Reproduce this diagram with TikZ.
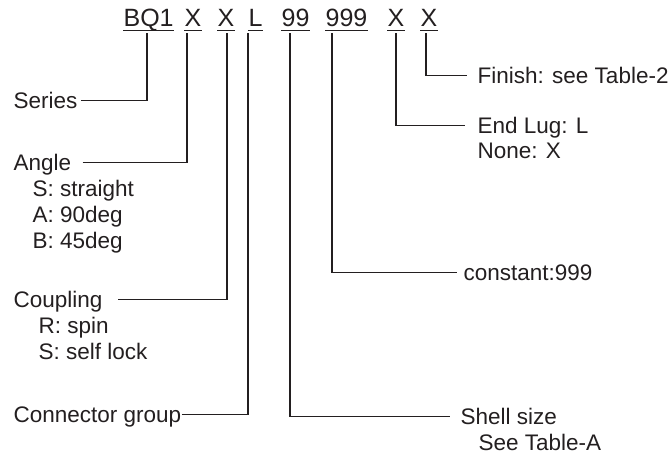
\documentclass[tikz,border=0pt]{standalone}
\usepackage{fontspec}
\setmainfont{Liberation Sans}
\usetikzlibrary{positioning,calc}
\definecolor{ink}{HTML}{231F20}
\tikzset{
  code/.style={inner sep=0pt, anchor=base west, text depth=0pt, font=\fontsize{25}{30}\selectfont},
  lbl/.style={inner sep=0pt, anchor=base west, text height=15pt, text depth=0pt, font=\fontsize{22.5}{26}\selectfont},
  uline/.style={line width=1.6pt}
}

\begin{document}
\begin{tikzpicture}[
    x=1pt, y=-1pt, % one unit is one pixel, y runs down
    color=ink, line width=1.2pt
]
    \useasboundingbox (0,0) rectangle (672,456);

    % Part number, one node per field
    \node[code] (bq) at (123,26) {BQ1};
    \node[code] (x1) at (184,26) {X};
    \node[code] (x2) at (217,26) {X};
    \node[code] (l)  at (248,26) {L};
    \node[code] (sz) at (281,26) {99};
    \node[code] (k)  at (325,26) {999};
    \node[code] (x3) at (387,26) {X};
    \node[code] (x4) at (420,26) {X};
    \foreach \n in {bq,x1,x2,l,sz,k,x3,x4}
        \draw[uline] ([yshift=-4pt]\n.south west) -- ([yshift=-4pt]\n.south east);

    % Drop points under the fields
    \coordinate (dS) at (147,33);
    \coordinate (dA) at (187,33);
    \coordinate (dC) at (227,33);
    \coordinate (dG) at (248,33);
    \coordinate (dZ) at (290,33);
    \coordinate (dK) at (332,33);
    \coordinate (dE) at (396,33);
    \coordinate (dF) at (426,33);

    % Left labels
    \node[lbl] (series) at (13,108) {Series};
    \node[lbl] (angle)  at (13,170) {Angle};
    \node[lbl] (angS) at ([shift={(19,26)}]angle.base west) {S: straight};
    \node[lbl] (angA) at ([shift={(0,26)}]angS.base west) {A: 90deg};
    \node[lbl] (angB) at ([shift={(0,26)}]angA.base west) {B: 45deg};
    \node[lbl] (coup) at (13,307) {Coupling};
    \node[lbl] (coupR) at ([shift={(25,26)}]coup.base west) {R: spin};
    \node[lbl] (coupS) at ([shift={(0,26)}]coupR.base west) {S: self lock};
    \node[lbl] (group) at (13,422) {Connector group};

    % Right labels
    \node[lbl] (fin)  at (477,83)  {Finish: see Table-2};
    \node[lbl] (lug)  at (477,133) {End Lug: L};
    \node[lbl] (lugX) at ([shift={(0,25)}]lug.base west) {None: X};
    \node[lbl] (const) at (463,280) {constant:999};
    \node[lbl] (shell) at (460,424) {Shell size};
    \node[lbl] (shellA) at ([shift={(18,26)}]shell.base west) {See Table-A};

    % Leader lines
    \draw ([xshift=3pt]series.east) -| (dS);
    \draw ([xshift=11pt]angle.east) -| (dA);
    \draw ([xshift=15pt]coup.east) -| (dC);
    \draw (group.east) -| (dG);
    \draw (dZ) |- ([xshift=-10pt]shell.west);
    \draw (dK) |- ([xshift=-6pt]const.west);
    \draw (dE) |- ([xshift=-12pt]lug.west);
    \draw (dF) |- ([xshift=-10pt]fin.west);
\end{tikzpicture}
\end{document}
